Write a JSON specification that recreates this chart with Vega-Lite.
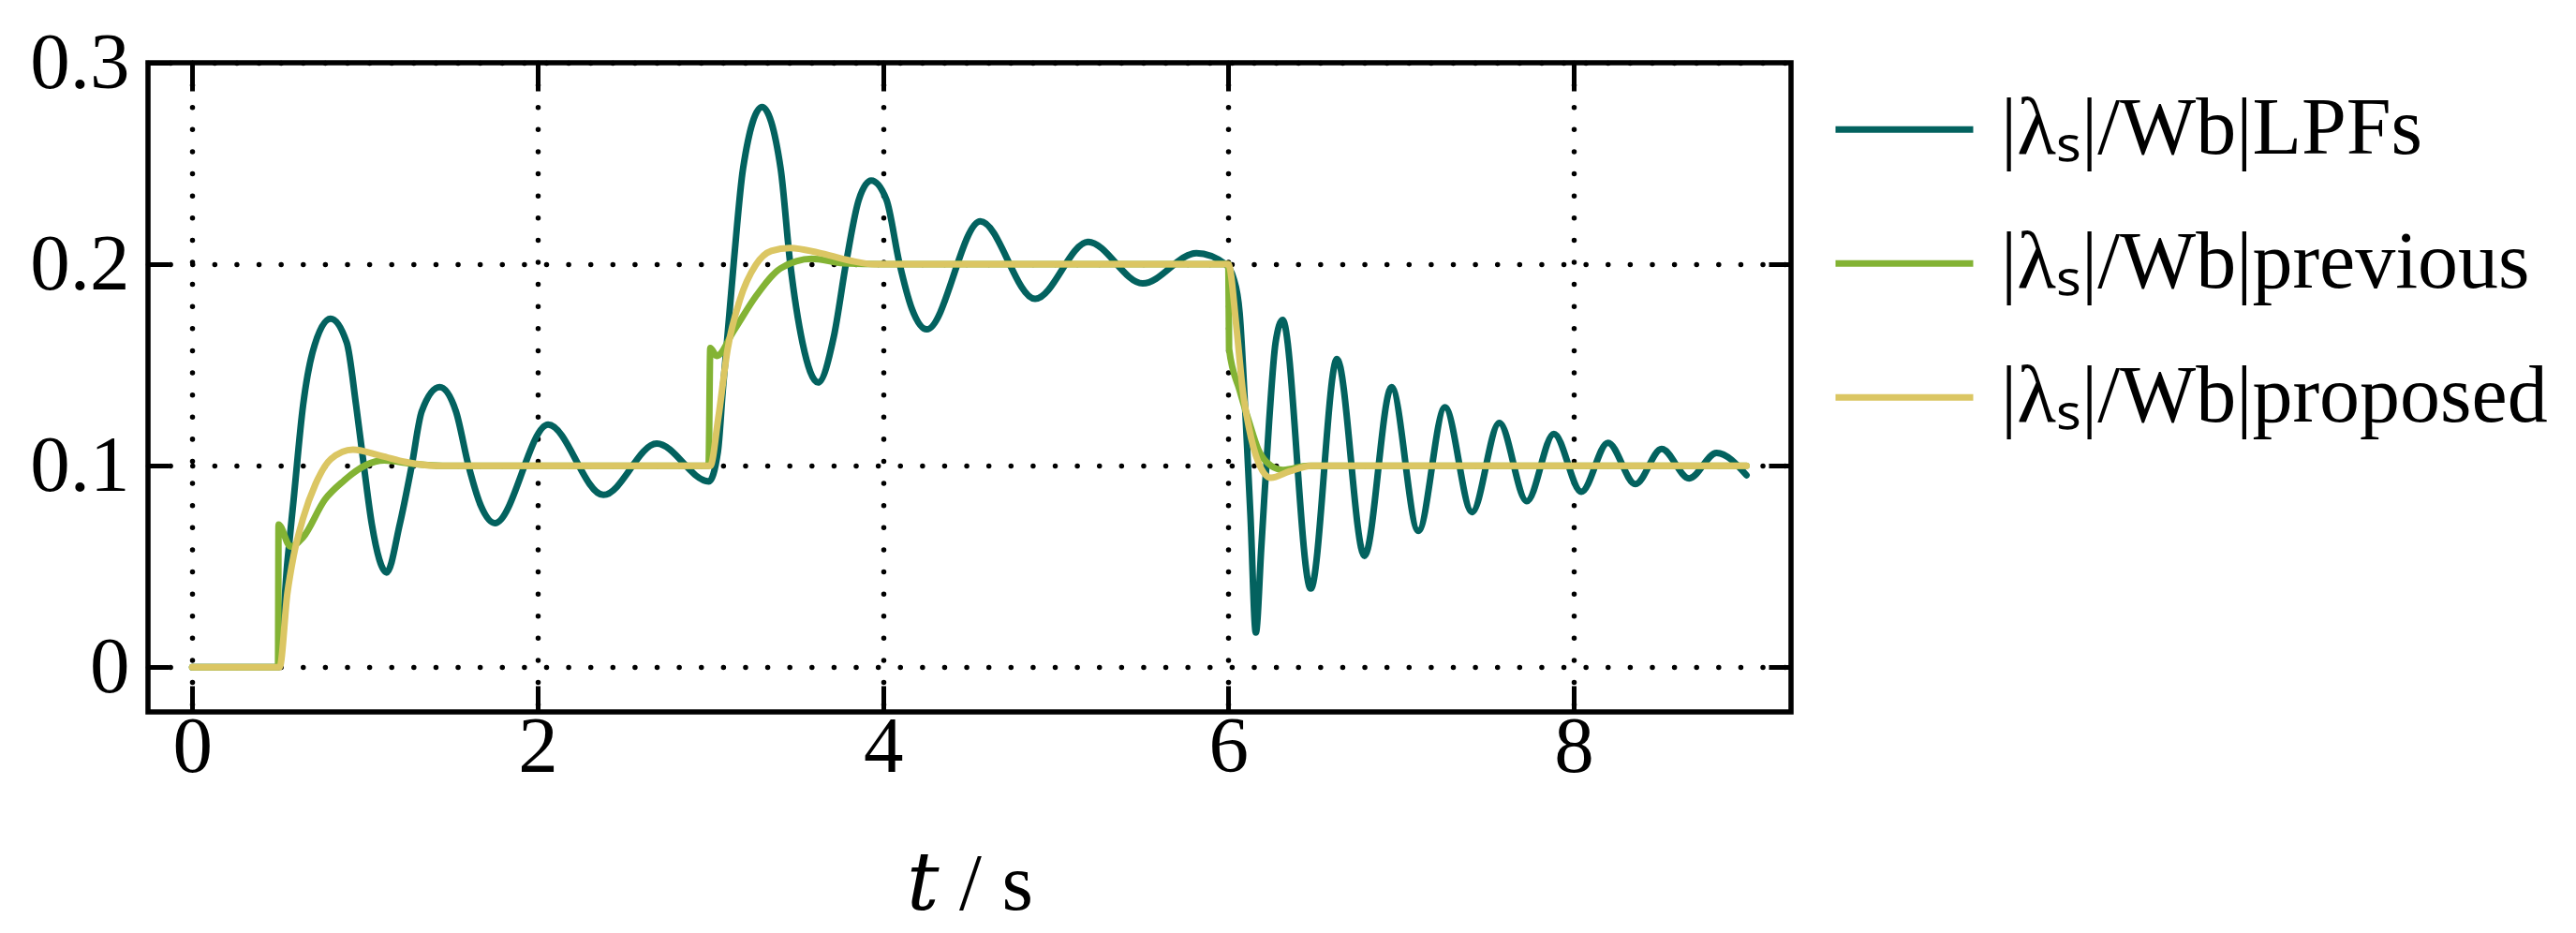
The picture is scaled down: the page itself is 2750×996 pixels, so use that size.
{
  "$schema": "https://vega.github.io/schema/vega-lite/v6.json",
  "autosize": {"type": "none"},
  "width": 1754,
  "height": 693,
  "padding": {"left": 158, "top": 67, "right": 838, "bottom": 236},
  "background": "white",
  "config": {
    "view": {"stroke": "black", "strokeWidth": 5.5},
    "axis": {
      "labelFont": "Liberation Serif", "labelFontSize": 85, "labelColor": "black",
      "titleFont": "Liberation Serif, DejaVu Serif, serif", "titleFontSize": 86, "titleColor": "black", "titleFontWeight": "normal",
      "tickColor": "black", "tickWidth": 5, "domain": false,
      "gridColor": "black", "gridWidth": 5.5, "gridDash": [0.01, 23.6], "gridCap": "round", "gridOpacity": 1
    },
    "legend": {
      "orient": "none", "legendX": 1798, "legendY": 0, "padding": 0,
      "symbolType": "stroke", "symbolSize": 21609, "symbolStrokeWidth": 7,
      "labelFont": "Liberation Serif", "labelFontSize": 86, "labelColor": "black",
      "labelOffset": 26, "clipHeight": 142.5, "rowPadding": 0, "labelLimit": 2000
    }
  },
  "data": {"values": [
    {"series": "LPFs", "t": 0, "v": 0},
    {"series": "LPFs", "t": 0.5, "v": 0},
    {"series": "LPFs", "t": 0.551, "v": 0.052},
    {"series": "LPFs", "t": 0.587, "v": 0.083},
    {"series": "LPFs", "t": 0.642, "v": 0.130},
    {"series": "LPFs", "t": 0.696, "v": 0.156},
    {"series": "LPFs", "t": 0.801, "v": 0.173},
    {"series": "LPFs", "t": 0.895, "v": 0.161},
    {"series": "LPFs", "t": 0.949, "v": 0.130},
    {"series": "LPFs", "t": 0.994, "v": 0.100},
    {"series": "LPFs", "t": 1.040, "v": 0.071},
    {"series": "LPFs", "t": 1.126, "v": 0.047},
    {"series": "LPFs", "t": 1.202, "v": 0.071},
    {"series": "LPFs", "t": 1.271, "v": 0.100},
    {"series": "LPFs", "t": 1.329, "v": 0.127},
    {"series": "LPFs", "t": 1.433, "v": 0.139},
    {"series": "LPFs", "t": 1.527, "v": 0.127},
    {"series": "LPFs", "t": 1.600, "v": 0.100},
    {"series": "LPFs", "t": 1.672, "v": 0.080},
    {"series": "LPFs", "t": 1.753, "v": 0.0715},
    {"series": "LPFs", "t": 2.061, "v": 0.1204},
    {"series": "LPFs", "t": 2.381, "v": 0.0855},
    {"series": "LPFs", "t": 2.690, "v": 0.111},
    {"series": "LPFs", "t": 2.992, "v": 0.0922},
    {"series": "LPFs", "t": 3.044, "v": 0.107},
    {"series": "LPFs", "t": 3.072, "v": 0.137},
    {"series": "LPFs", "t": 3.136, "v": 0.201},
    {"series": "LPFs", "t": 3.190, "v": 0.2477},
    {"series": "LPFs", "t": 3.300, "v": 0.278},
    {"series": "LPFs", "t": 3.407, "v": 0.2477},
    {"series": "LPFs", "t": 3.462, "v": 0.201},
    {"series": "LPFs", "t": 3.534, "v": 0.161},
    {"series": "LPFs", "t": 3.624, "v": 0.1413},
    {"series": "LPFs", "t": 3.715, "v": 0.164},
    {"series": "LPFs", "t": 3.787, "v": 0.201},
    {"series": "LPFs", "t": 3.860, "v": 0.232},
    {"series": "LPFs", "t": 3.932, "v": 0.2415},
    {"series": "LPFs", "t": 4.020, "v": 0.232},
    {"series": "LPFs", "t": 4.094, "v": 0.201},
    {"series": "LPFs", "t": 4.167, "v": 0.178},
    {"series": "LPFs", "t": 4.254, "v": 0.1677},
    {"series": "LPFs", "t": 4.564, "v": 0.2213},
    {"series": "LPFs", "t": 4.881, "v": 0.1828},
    {"series": "LPFs", "t": 5.188, "v": 0.2111},
    {"series": "LPFs", "t": 5.504, "v": 0.1905},
    {"series": "LPFs", "t": 5.815, "v": 0.2055},
    {"series": "LPFs", "t": 5.983, "v": 0.200},
    {"series": "LPFs", "t": 6.030, "v": 0.193},
    {"series": "LPFs", "t": 6.065, "v": 0.176},
    {"series": "LPFs", "t": 6.101, "v": 0.122},
    {"series": "LPFs", "t": 6.128, "v": 0.075},
    {"series": "LPFs", "t": 6.159, "v": 0.0172},
    {"series": "LPFs", "t": 6.191, "v": 0.060},
    {"series": "LPFs", "t": 6.236, "v": 0.122},
    {"series": "LPFs", "t": 6.273, "v": 0.161},
    {"series": "LPFs", "t": 6.314, "v": 0.1724},
    {"series": "LPFs", "t": 6.477, "v": 0.039},
    {"series": "LPFs", "t": 6.629, "v": 0.153},
    {"series": "LPFs", "t": 6.788, "v": 0.0552},
    {"series": "LPFs", "t": 6.945, "v": 0.139},
    {"series": "LPFs", "t": 7.100, "v": 0.0676},
    {"series": "LPFs", "t": 7.254, "v": 0.129},
    {"series": "LPFs", "t": 7.411, "v": 0.077},
    {"series": "LPFs", "t": 7.569, "v": 0.1212},
    {"series": "LPFs", "t": 7.728, "v": 0.0824},
    {"series": "LPFs", "t": 7.885, "v": 0.1158},
    {"series": "LPFs", "t": 8.044, "v": 0.0871},
    {"series": "LPFs", "t": 8.198, "v": 0.1114},
    {"series": "LPFs", "t": 8.357, "v": 0.0909},
    {"series": "LPFs", "t": 8.509, "v": 0.1083},
    {"series": "LPFs", "t": 8.668, "v": 0.0937},
    {"series": "LPFs", "t": 8.827, "v": 0.1064},
    {"series": "LPFs", "t": 9.000, "v": 0.0953},

    {"series": "previous", "t": 0, "v": 0},
    {"series": "previous", "t": 0.497, "v": 0},
    {"series": "previous", "t": 0.500, "v": 0.0708},
    {"series": "previous", "t": 0.569, "v": 0.0599},
    {"series": "previous", "t": 0.642, "v": 0.0645},
    {"series": "previous", "t": 0.768, "v": 0.0832},
    {"series": "previous", "t": 0.877, "v": 0.0925},
    {"series": "previous", "t": 1.003, "v": 0.1002},
    {"series": "previous", "t": 1.112, "v": 0.1026},
    {"series": "previous", "t": 1.275, "v": 0.101},
    {"series": "previous", "t": 1.450, "v": 0.100},
    {"series": "previous", "t": 2.990, "v": 0.100},
    {"series": "previous", "t": 3.000, "v": 0.1584},
    {"series": "previous", "t": 3.037, "v": 0.1545},
    {"series": "previous", "t": 3.136, "v": 0.167},
    {"series": "previous", "t": 3.263, "v": 0.184},
    {"series": "previous", "t": 3.408, "v": 0.198},
    {"series": "previous", "t": 3.588, "v": 0.2027},
    {"series": "previous", "t": 3.770, "v": 0.2005},
    {"series": "previous", "t": 4.000, "v": 0.200},
    {"series": "previous", "t": 6.000, "v": 0.200},
    {"series": "previous", "t": 6.004, "v": 0.158},
    {"series": "previous", "t": 6.065, "v": 0.1375},
    {"series": "previous", "t": 6.119, "v": 0.122},
    {"series": "previous", "t": 6.173, "v": 0.108},
    {"series": "previous", "t": 6.246, "v": 0.100},
    {"series": "previous", "t": 6.318, "v": 0.0979},
    {"series": "previous", "t": 6.463, "v": 0.100},
    {"series": "previous", "t": 9.000, "v": 0.100},

    {"series": "proposed", "t": 0, "v": 0},
    {"series": "proposed", "t": 0.506, "v": 0},
    {"series": "proposed", "t": 0.551, "v": 0.0366},
    {"series": "proposed", "t": 0.587, "v": 0.0552},
    {"series": "proposed", "t": 0.642, "v": 0.0739},
    {"series": "proposed", "t": 0.714, "v": 0.0909},
    {"series": "proposed", "t": 0.804, "v": 0.1034},
    {"series": "proposed", "t": 0.931, "v": 0.108},
    {"series": "proposed", "t": 1.094, "v": 0.1049},
    {"series": "proposed", "t": 1.238, "v": 0.1018},
    {"series": "proposed", "t": 1.404, "v": 0.100},
    {"series": "proposed", "t": 3.000, "v": 0.100},
    {"series": "proposed", "t": 3.046, "v": 0.1235},
    {"series": "proposed", "t": 3.100, "v": 0.1577},
    {"series": "proposed", "t": 3.172, "v": 0.1825},
    {"series": "proposed", "t": 3.263, "v": 0.1996},
    {"series": "proposed", "t": 3.353, "v": 0.2066},
    {"series": "proposed", "t": 3.462, "v": 0.2081},
    {"series": "proposed", "t": 3.624, "v": 0.2058},
    {"series": "proposed", "t": 3.805, "v": 0.2019},
    {"series": "proposed", "t": 3.950, "v": 0.200},
    {"series": "proposed", "t": 6.000, "v": 0.200},
    {"series": "proposed", "t": 6.047, "v": 0.1685},
    {"series": "proposed", "t": 6.083, "v": 0.1375},
    {"series": "proposed", "t": 6.119, "v": 0.1189},
    {"series": "proposed", "t": 6.173, "v": 0.1018},
    {"series": "proposed", "t": 6.246, "v": 0.094},
    {"series": "proposed", "t": 6.354, "v": 0.0972},
    {"series": "proposed", "t": 6.481, "v": 0.100},
    {"series": "proposed", "t": 9.000, "v": 0.100}
  ]},
  "layer": [
    {
      "mark": {"type": "line", "interpolate": "monotone", "strokeWidth": 7, "strokeCap": "round", "strokeJoin": "round"},
      "encoding": {
        "x": {"field": "t", "type": "quantitative",
              "scale": {"domain": [-0.256, 9.258], "nice": false, "zero": false},
              "axis": {"orient": "bottom", "values": [0, 2, 4, 6, 8], "tickSize": -28, "labelPadding": 24,
                       "title": "𝑡 / s", "titlePadding": 62}},
        "y": {"field": "v", "type": "quantitative",
              "scale": {"domain": [-0.0222, 0.3], "nice": false, "zero": false},
              "axis": {"orient": "left", "values": [0, 0.1, 0.2, 0.3], "tickSize": -22, "labelPadding": 42,
                       "labelExpr": "datum.value == 0 ? '0' : format(datum.value, '.1f')", "title": null}},
        "color": {"field": "series", "type": "nominal",
                  "scale": {"domain": ["LPFs", "previous", "proposed"], "range": ["#03625f", "#83b334", "#dbc663"]},
                  "legend": {"title": null, "labelExpr": "'|λₛ|/Wb|' + datum.label"}}
      }
    },
    {
      "mark": {"type": "point", "opacity": 0},
      "encoding": {
        "x": {"field": "t", "type": "quantitative",
              "axis": {"orient": "top", "values": [0, 2, 4, 6, 8], "tickSize": -30, "labels": false, "grid": false, "title": null}},
        "y": {"field": "v", "type": "quantitative",
              "axis": {"orient": "right", "values": [0, 0.1, 0.2], "tickSize": -24, "labels": false, "grid": false, "title": null}}
      }
    }
  ],
  "resolve": {"axis": {"x": "independent", "y": "independent"}}
}
